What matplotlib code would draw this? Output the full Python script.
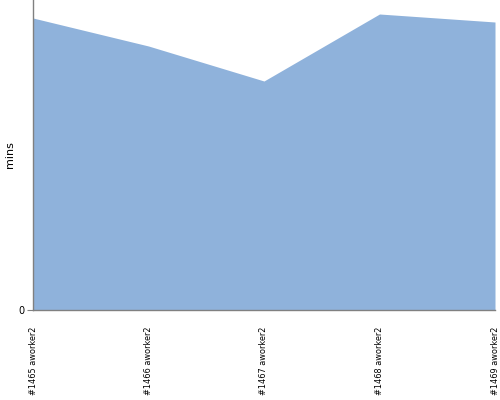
import matplotlib
matplotlib.use("Agg")
import matplotlib.pyplot as plt

builds = ["#1465 aworker2", "#1466 aworker2", "#1467 aworker2", "#1468 aworker2", "#1469 aworker2"]
mins = [292, 264, 229, 296, 288]

fig = plt.figure(figsize=(5, 4), dpi=100)
ax = fig.add_axes([0.066, 0.225, 0.924, 0.775])

x = list(range(len(builds)))
ax.fill_between(x, 0, mins, color="#8fb2db", linewidth=0)

ax.set_xlim(0, len(builds) - 1)
ax.set_ylim(0, 310)
ax.set_yticks([0])
ax.set_yticklabels(["0"], fontsize=7)
ax.set_xticks(x)
ax.set_xticklabels(builds, rotation=90, fontsize=5.9, va="top", ha="center",
                   family="Liberation Sans Narrow")
ax.tick_params(axis="x", length=0, pad=12)
ax.tick_params(axis="y", length=4, color="#808080", pad=2)
ax.set_ylabel("mins", fontsize=8)
ax.yaxis.set_label_coords(-0.04, 0.5)

for s in ["top", "right"]:
    ax.spines[s].set_visible(False)
for s in ["left", "bottom"]:
    ax.spines[s].set_color("#808080")
    ax.spines[s].set_linewidth(1)

fig.savefig("out.png", dpi=100)
